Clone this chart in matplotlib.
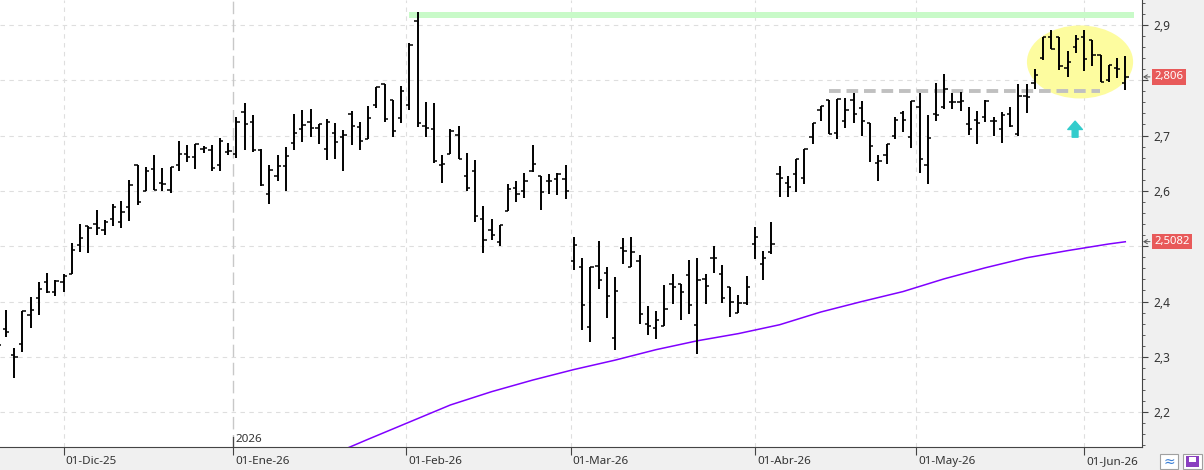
import numpy as np
import pandas as pd
import matplotlib
matplotlib.use("Agg")
import matplotlib.pyplot as plt
import matplotlib.transforms as mtransforms
from matplotlib.patches import Ellipse, Rectangle

plt.rcParams['font.family'] = ['Noto Sans', 'DejaVu Sans']

# ---- data ----
first_day = "2025-11-19"
last_day = "2026-06-08"
holidays = ["2025-12-25", "2025-12-26", "2026-01-01", "2026-04-03", "2026-04-06", "2026-05-01"]

opens = [2.330, 2.350, 2.304, 2.324, 2.376, 2.407, 2.436, 2.418, 2.436, 2.450,
         2.503, 2.536, 2.541, 2.530, 2.550, 2.544, 2.571, 2.646, 2.599, 2.640,
         2.615, 2.602, 2.646, 2.666, 2.661, 2.675, 2.673, 2.647, 2.671, 2.666,
         2.743, 2.724, 2.674, 2.594, 2.627, 2.645, 2.686, 2.711, 2.724, 2.713,
         2.675, 2.704, 2.698, 2.739, 2.715, 2.693, 2.755, 2.793, 2.764, 2.732,
         2.755, 2.907, 2.717, 2.712, 2.647, 2.666, 2.701, 2.627, 2.635, 2.550,
         2.529, 2.507, 2.563, 2.605, 2.599, 2.636, 2.627, 2.617, 2.622, 2.622,
         2.474, 2.462, 2.354, 2.464, 2.452, 2.334, 2.497, 2.462, 2.474, 2.360,
         2.352, 2.356, 2.432, 2.432, 2.448, 2.358, 2.440, 2.478, 2.449, 2.427,
         2.380, 2.398, 2.504, 2.467, 2.489, 2.631, 2.614, 2.630, 2.624, 2.697,
         2.746, 2.764, 2.705, 2.726, 2.764, 2.749, 2.722, 2.650, 2.664, 2.700,
         2.740, 2.698, 2.751, 2.647, 2.739, 2.751, 2.760, 2.760, 2.721, 2.728,
         2.733, 2.726, 2.712, 2.739, 2.702, 2.772, 2.795, 2.840, 2.879, 2.879,
         2.822, 2.860, 2.879, 2.872, 2.846, 2.801, 2.822, 2.795]
highs = [2.350, 2.384, 2.316, 2.382, 2.409, 2.435, 2.452, 2.438, 2.450, 2.505,
         2.540, 2.536, 2.566, 2.548, 2.576, 2.581, 2.619, 2.646, 2.644, 2.664,
         2.642, 2.644, 2.690, 2.682, 2.684, 2.681, 2.682, 2.696, 2.687, 2.733,
         2.759, 2.737, 2.675, 2.647, 2.664, 2.680, 2.739, 2.746, 2.748, 2.721,
         2.730, 2.723, 2.710, 2.745, 2.724, 2.754, 2.787, 2.793, 2.764, 2.790,
         2.868, 2.923, 2.761, 2.759, 2.664, 2.712, 2.718, 2.669, 2.656, 2.572,
         2.550, 2.539, 2.613, 2.617, 2.633, 2.682, 2.627, 2.630, 2.633, 2.646,
         2.516, 2.479, 2.463, 2.509, 2.463, 2.445, 2.515, 2.516, 2.484, 2.391,
         2.383, 2.430, 2.450, 2.432, 2.475, 2.478, 2.449, 2.500, 2.466, 2.427,
         2.411, 2.446, 2.534, 2.491, 2.543, 2.645, 2.627, 2.658, 2.676, 2.723,
         2.754, 2.764, 2.766, 2.767, 2.776, 2.763, 2.722, 2.665, 2.684, 2.733,
         2.744, 2.763, 2.777, 2.737, 2.795, 2.811, 2.776, 2.778, 2.751, 2.745,
         2.764, 2.733, 2.742, 2.751, 2.793, 2.793, 2.820, 2.878, 2.891, 2.879,
         2.852, 2.882, 2.891, 2.873, 2.846, 2.828, 2.840, 2.844]
lows = [2.300, 2.336, 2.261, 2.309, 2.352, 2.375, 2.416, 2.410, 2.417, 2.450,
        2.490, 2.487, 2.521, 2.521, 2.537, 2.532, 2.546, 2.575, 2.599, 2.602,
        2.600, 2.596, 2.636, 2.652, 2.640, 2.669, 2.636, 2.636, 2.665, 2.660,
        2.674, 2.670, 2.608, 2.577, 2.617, 2.599, 2.674, 2.689, 2.697, 2.685,
        2.655, 2.657, 2.635, 2.682, 2.674, 2.693, 2.749, 2.725, 2.697, 2.723,
        2.746, 2.716, 2.698, 2.651, 2.615, 2.666, 2.658, 2.599, 2.543, 2.488,
        2.512, 2.501, 2.563, 2.580, 2.587, 2.634, 2.566, 2.595, 2.593, 2.585,
        2.457, 2.349, 2.326, 2.423, 2.370, 2.313, 2.468, 2.462, 2.360, 2.339,
        2.332, 2.356, 2.396, 2.367, 2.377, 2.305, 2.396, 2.452, 2.398, 2.372,
        2.380, 2.394, 2.477, 2.438, 2.485, 2.588, 2.589, 2.598, 2.613, 2.684,
        2.727, 2.702, 2.694, 2.714, 2.722, 2.700, 2.653, 2.618, 2.649, 2.693,
        2.707, 2.678, 2.632, 2.612, 2.727, 2.748, 2.748, 2.745, 2.701, 2.685,
        2.725, 2.699, 2.686, 2.716, 2.699, 2.740, 2.784, 2.837, 2.856, 2.819,
        2.805, 2.849, 2.816, 2.825, 2.796, 2.796, 2.804, 2.783]
closes = [2.321, 2.344, 2.300, 2.382, 2.385, 2.423, 2.418, 2.437, 2.447, 2.494,
          2.514, 2.532, 2.532, 2.544, 2.570, 2.561, 2.610, 2.580, 2.635, 2.602,
          2.613, 2.644, 2.666, 2.661, 2.684, 2.678, 2.642, 2.691, 2.672, 2.725,
          2.720, 2.673, 2.610, 2.637, 2.645, 2.663, 2.704, 2.719, 2.713, 2.721,
          2.724, 2.688, 2.701, 2.717, 2.690, 2.732, 2.787, 2.730, 2.708, 2.780,
          2.864, 2.722, 2.713, 2.654, 2.648, 2.708, 2.658, 2.606, 2.554, 2.511,
          2.520, 2.539, 2.603, 2.594, 2.618, 2.648, 2.598, 2.617, 2.631, 2.599,
          2.503, 2.393, 2.463, 2.438, 2.410, 2.419, 2.491, 2.489, 2.378, 2.356,
          2.367, 2.387, 2.426, 2.417, 2.393, 2.439, 2.428, 2.478, 2.406, 2.400,
          2.398, 2.427, 2.516, 2.478, 2.504, 2.623, 2.607, 2.658, 2.676, 2.722,
          2.753, 2.702, 2.766, 2.747, 2.739, 2.726, 2.681, 2.654, 2.684, 2.728,
          2.728, 2.763, 2.658, 2.696, 2.737, 2.784, 2.760, 2.762, 2.712, 2.723,
          2.763, 2.726, 2.737, 2.718, 2.772, 2.770, 2.810, 2.878, 2.856, 2.825,
          2.833, 2.874, 2.839, 2.846, 2.796, 2.827, 2.820, 2.806]

# moving average, read at some bars
ma_idx = [42, 45, 50, 55, 60, 65, 70, 75, 80, 85, 90, 95, 100, 105, 110, 115, 120, 125, 130, 135, 137]
ma_val = [2.132, 2.151, 2.182, 2.213, 2.237, 2.258, 2.277, 2.294, 2.313, 2.329, 2.342,
          2.358, 2.381, 2.400, 2.418, 2.441, 2.461, 2.479, 2.492, 2.504, 2.508]
ma_last = 2.5082

resist_level = 2.918
resist_from, resist_to = 50, 138.1
support_level = 2.781
support_from, support_to = 101.0, 133.9

month_abbr = {1: "Ene", 2: "Feb", 3: "Mar", 4: "Abr", 5: "May", 6: "Jun",
              7: "Jul", 8: "Ago", 9: "Sep", 10: "Oct", 11: "Nov", 12: "Dic"}

y_ticks = [2.2, 2.3, 2.4, 2.5, 2.6, 2.7, 2.8, 2.9]
# 2,5 and 2,8 sit under the red price boxes
y_labels = ["2,2", "2,3", "2,4", "", "2,6", "2,7", "", "2,9"]

# ---- trading calendar ----
dates = pd.bdate_range(first_day, last_day)
dates = dates[~dates.isin(pd.to_datetime(holidays))]
x = np.arange(len(dates))

tick_pos, tick_lab = [], []
for m in pd.date_range("2025-12-01", "2026-06-01", freq="MS"):
    k = int(np.searchsorted(dates, m))
    pos = k if dates[k] == m else k - 0.4
    tick_pos.append(pos)
    tick_lab.append("01-%s-%s" % (month_abbr[m.month], m.strftime("%y")))

# ---- figure ----
W, H = 1204, 470
fig = plt.figure(figsize=(W / 100, H / 100), dpi=100, facecolor="#f0f0f0")
ax = fig.add_axes([0, 23 / H, 1142 / W, 447 / H])
ax.set_facecolor("white")

ax.set_xlim(0.271, 139.03)
ax.set_ylim(2.137, 2.945)

# grid
for yv in y_ticks:
    ax.axhline(yv, color="#dedede", lw=0.8, ls=(0, (4, 4)), zorder=0)
for pos, lab in zip(tick_pos, tick_lab):
    if "Ene" in lab:
        ax.axvline(pos, color="#c8c8c8", lw=1.0, ls=(0, (9, 4)), zorder=0)
    else:
        ax.axvline(pos, color="#dedede", lw=0.8, ls=(0, (4, 4)), zorder=0)

# yellow zone + annotations
ax.add_patch(Ellipse((131.5, 2.833), 12.9, 0.132, facecolor="#fdfc9f", edgecolor="none", zorder=1))
ax.hlines(resist_level, resist_from, resist_to, color="#c8fac8", lw=4.3, zorder=1)
ax.hlines(support_level, support_from, support_to, color="#c0c0c0", lw=2.8, ls=(0, (3, 1.5)), zorder=2)
ax.annotate("", xy=(130.9, 2.726), xytext=(130.9, 2.697),
            arrowprops=dict(arrowstyle="simple,head_width=1.05,head_length=0.6,tail_width=0.42",
                            color="#33cccc", shrinkA=0, shrinkB=0), zorder=3)

# moving average
ax.plot(ma_idx, ma_val, color="#8000ff", lw=1.1, zorder=3)

# OHLC bars
ax.vlines(x, lows, highs, color="black", lw=1.4, zorder=4)
ax.hlines(opens, x - 0.4, x, color="black", lw=1.1, zorder=4)
ax.hlines(closes, x, x + 0.4, color="black", lw=1.1, zorder=4)

# axes styling
for s in ["top", "left"]:
    ax.spines[s].set_visible(False)
ax.spines["right"].set_color("#444444")
ax.spines["bottom"].set_color("#444444")
ax.yaxis.tick_right()
ax.set_yticks(y_ticks)
ax.set_yticks(np.arange(2.14, 2.95, 0.02), minor=True)
ax.set_yticklabels(y_labels)
ax.tick_params(axis="y", which="major", direction="out", length=4, color="#444444",
               labelsize=8.6, labelcolor="#333333", pad=4.5)
ax.tick_params(axis="y", which="minor", direction="out", length=2.5, color="#444444")
ax.set_xticks(tick_pos)
ax.set_xticklabels([])
ax.tick_params(axis="x", direction="out", length=6, color="#444444")

# date labels
off = mtransforms.ScaledTranslation(2 / 100, 0, fig.dpi_scale_trans)
btrans = mtransforms.blended_transform_factory(ax.transData, ax.transAxes)
for pos, lab in zip(tick_pos, tick_lab):
    ax.text(pos, -17 / 447, lab, transform=btrans + off, ha="left", va="baseline",
            fontsize=8.4, color="#333333", clip_on=False)
    if "Ene" in lab:
        ax.plot([pos, pos], [0, 10 / 447], transform=btrans, color="#444444", lw=0.9)
        ax.text(pos, 2 / 447, "2026", transform=btrans + off, ha="left", va="bottom",
                fontsize=8.4, color="#333333")

# price labels on the right
ptrans = mtransforms.blended_transform_factory(fig.transFigure, ax.transData)
for val, txt in [(closes[-1], "2,806"), (ma_last, "2,5082")]:
    ax.text(1154.5 / W, val, txt, transform=ptrans, ha="left", va="center", fontsize=8.2,
            color="white", clip_on=False,
            bbox=dict(boxstyle="square,pad=0.2", fc="#e85a5a", ec="none"))
    ax.annotate("", xy=(1143 / W, val), xytext=(1150 / W, val), xycoords=ptrans,
                textcoords=ptrans, annotation_clip=False,
                arrowprops=dict(arrowstyle="->,head_length=0.25,head_width=0.15",
                                color="#555555", lw=0.7, shrinkA=0, shrinkB=0))

# small buttons bottom right
fig.add_artist(Rectangle((1160 / W, 1 / H), 18 / W, 15 / H, transform=fig.transFigure,
                         facecolor="white", edgecolor="#a0a0a0", lw=0.8))
fig.text(1169 / W, 8 / H, "\u2248", ha="center", va="center", fontsize=10, color="#3a7fd5")
fig.add_artist(Rectangle((1183 / W, 1 / H), 19 / W, 15 / H, transform=fig.transFigure,
                         facecolor="white", edgecolor="#a0a0a0", lw=0.8))
fig.add_artist(Rectangle((1186 / W, 3 / H), 13 / W, 11 / H, transform=fig.transFigure,
                         facecolor="#8a3fc0", edgecolor="none"))
fig.add_artist(Rectangle((1189 / W, 8 / H), 7 / W, 5 / H, transform=fig.transFigure,
                         facecolor="white", edgecolor="none"))

fig.savefig("out.png", dpi=100, facecolor=fig.get_facecolor())
